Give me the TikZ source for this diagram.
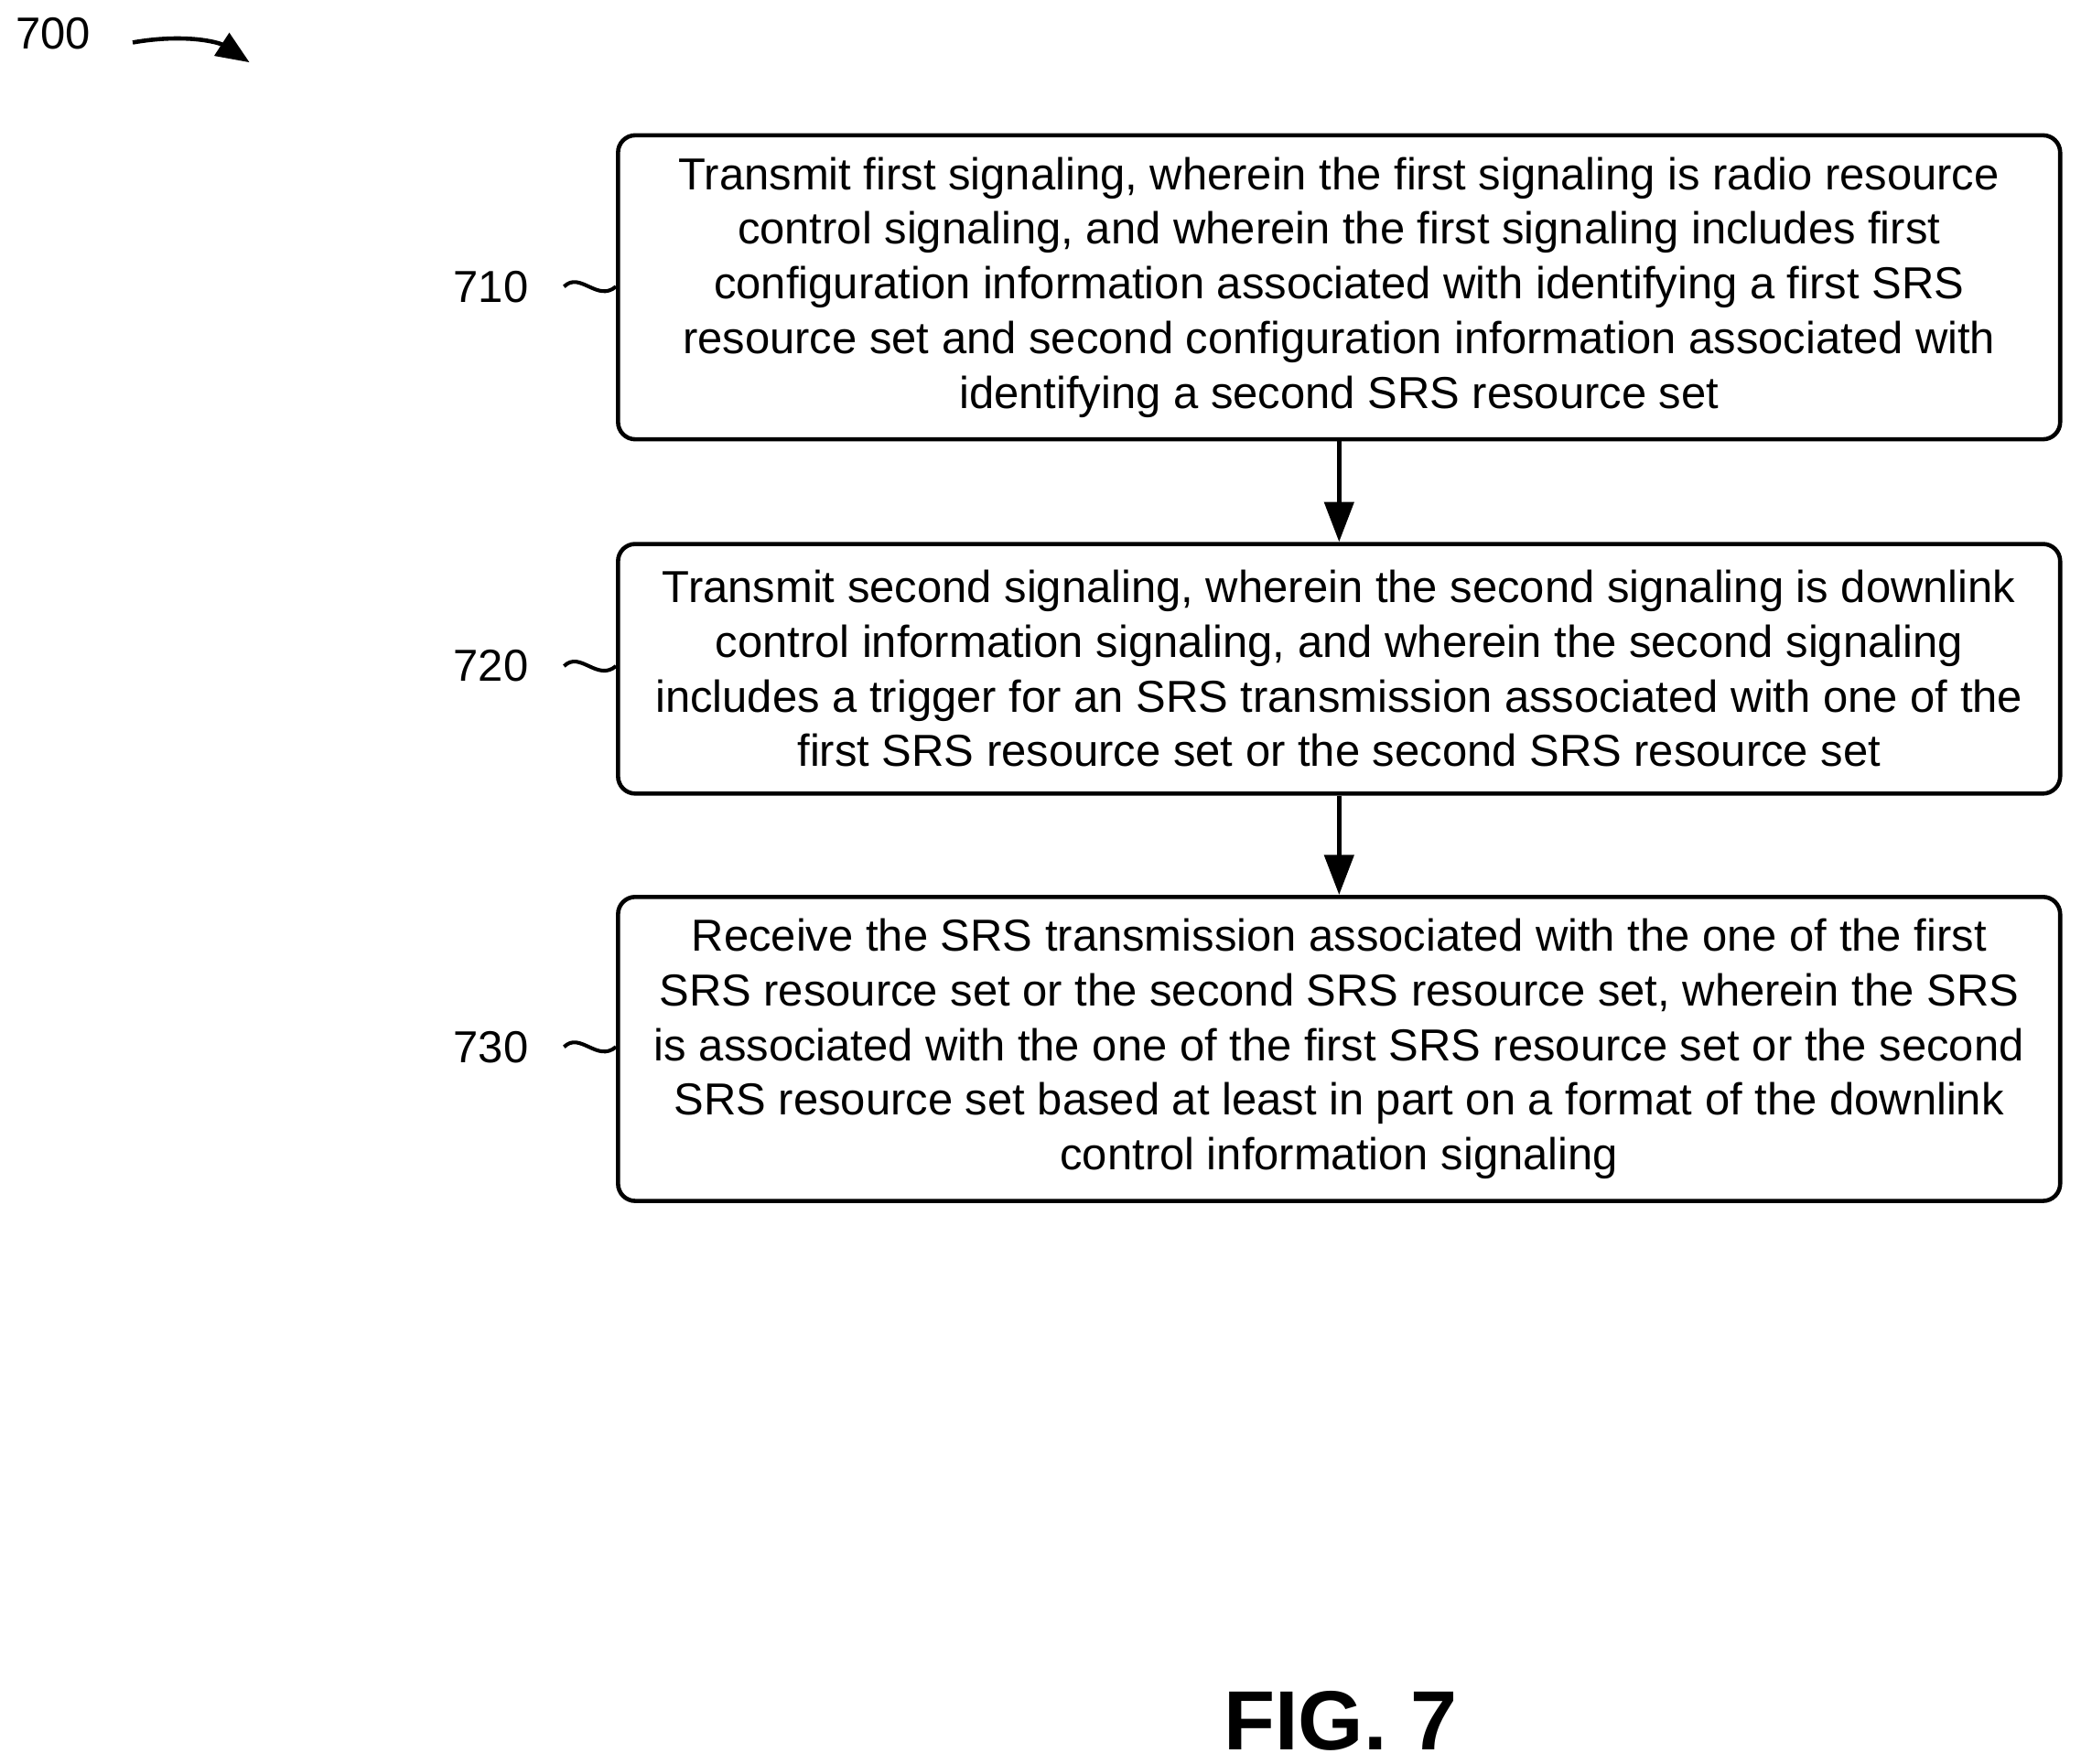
\documentclass[tikz,border=0pt]{standalone}
\usepackage{fontspec}
\setmainfont{Liberation Sans}
\usetikzlibrary{arrows.meta}
\begin{document}
\begin{tikzpicture}[x=0.01cm,y=-0.01cm,
  box/.style={draw,line width=0.9pt,rounded corners=0.13cm,minimum width=10.86cm,align=center,font=\fontsize{9.6}{11.7}\selectfont,inner sep=0pt},
  lbl/.style={font=\fontsize{9.6}{11.7}\selectfont},
  arr/.style={line width=0.9pt,-{Triangle[length=0.3cm,width=0.22cm]}},
  sq/.style={line width=0.8pt}]
\useasboundingbox (0,0) rectangle (1568,1329);
\node[box,minimum height=2.29cm] (b1) at (1009,216.5) {Transmit first signaling, wherein the first signaling is radio resource\\control signaling, and wherein the first signaling includes first\\configuration information associated with identifying a first SRS\\resource set and second configuration information associated with\\identifying a second SRS resource set};
\node[box,minimum height=1.88cm] (b2) at (1009,504) {Transmit second signaling, wherein the second signaling is downlink\\control information signaling, and wherein the second signaling\\includes a trigger for an SRS transmission associated with one of the\\first SRS resource set or the second SRS resource set};
\node[box,minimum height=2.29cm] (b3) at (1009,790.5) {Receive the SRS transmission associated with the one of the first\\SRS resource set or the second SRS resource set, wherein the SRS\\is associated with the one of the first SRS resource set or the second\\SRS resource set based at least in part on a format of the downlink\\control information signaling};
\draw[arr] (b1) -- (b2);
\draw[arr] (b2) -- (b3);
\foreach \n/\y/\b in {710/216/b1,720/502/b2,730/789/b3}{
  \node[lbl] (l\n) at (370,\y) {\n};
  \draw[sq] (425,\y) .. controls (437,\y-12) and (450,\y+12) .. (\b.west |- 0,\y);
}
\node[lbl] (l700) at (40,25) {700};
\coordinate (a0) at (100,32);
\draw[line width=0.9pt,-{Triangle[length=0.25cm,width=0.2cm]}] (a0) .. controls (140,25) and (165,32) .. (188,47);
\node[font=\bfseries\fontsize{18}{20}\selectfont] (fig) at (1010,1297) {FIG. 7};
\end{tikzpicture}
\end{document}
